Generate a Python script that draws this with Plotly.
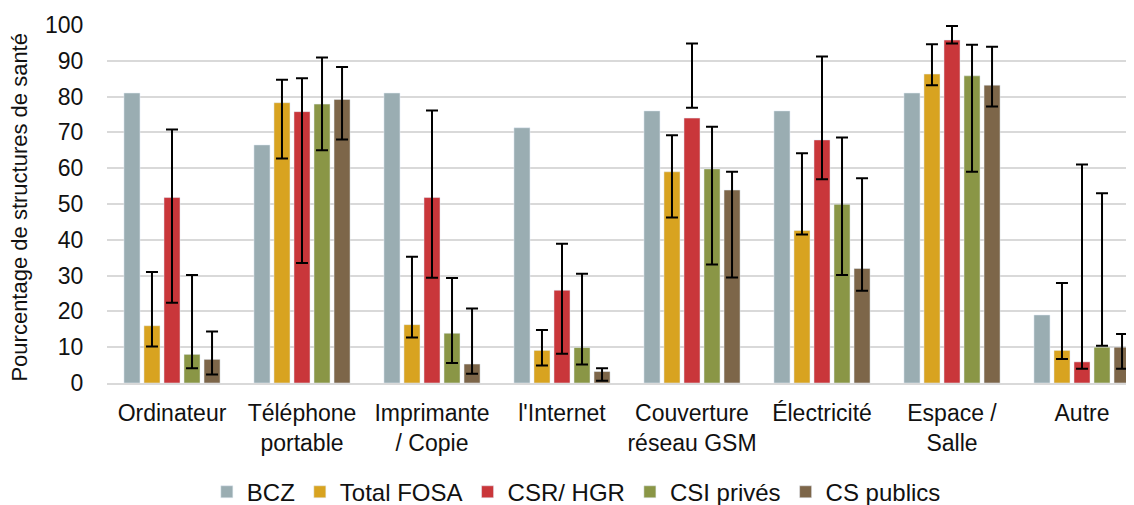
import plotly.graph_objects as go

categories = ["Ordinateur", "Téléphone<br>portable", "Imprimante<br>/ Copie", "l'Internet",
              "Couverture<br>réseau GSM", "Électricité", "Espace /<br>Salle", "Autre"]

series_names = ["BCZ", "Total FOSA", "CSR/ HGR", "CSI privés", "CS publics"]

bcz = [81, 66.5, 81, 71.3, 76, 76, 81, 19]

fosa = [16, 78.3, 16.3, 9.1, 59, 42.6, 86.3, 9.1]
fosa_hi = [31, 84.7, 35.3, 14.8, 69.2, 64.2, 94.6, 27.9]
fosa_lo = [10.2, 62.7, 12.7, 4.9, 46.2, 41.5, 83.2, 6.7]

csr = [51.8, 75.8, 51.8, 25.9, 74, 67.9, 95.8, 5.9]
csr_hi = [70.8, 85.1, 76.1, 38.9, 94.8, 91.2, 99.7, 61]
csr_lo = [22.4, 33.5, 29.4, 8.2, 76.9, 56.9, 94.8, 4]

csi = [8, 77.9, 13.9, 9.9, 59.8, 49.9, 85.8, 10]
csi_hi = [30.2, 90.9, 29.3, 30.5, 71.6, 68.6, 94.5, 53]
csi_lo = [4.1, 65, 5.6, 5.2, 33.1, 30.2, 59, 10.4]

csp = [6.6, 79.2, 5.3, 3.2, 53.9, 32, 83.2, 10]
csp_hi = [14.4, 88.3, 20.8, 4.1, 59, 57.2, 93.9, 13.7]
csp_lo = [2.4, 68, 2.6, 0.6, 29.5, 25.8, 77.2, 4]

colors = ["#9aadb2", "#d8a320", "#c9363a", "#8a9646", "#7d6649"]

fig = go.Figure()

fig.add_trace(go.Bar(name=series_names[0], x=categories, y=bcz, marker_color=colors[0]))

for name, vals, hi, lo, col in [
    (series_names[1], fosa, fosa_hi, fosa_lo, colors[1]),
    (series_names[2], csr, csr_hi, csr_lo, colors[2]),
    (series_names[3], csi, csi_hi, csi_lo, colors[3]),
    (series_names[4], csp, csp_hi, csp_lo, colors[4]),
]:
    fig.add_trace(go.Bar(
        name=name, x=categories, y=vals, marker_color=col,
        error_y=dict(type="data", symmetric=False,
                     array=[h - v for h, v in zip(hi, vals)],
                     arrayminus=[v - l for v, l in zip(vals, lo)],
                     color="black", thickness=2, width=6),
    ))

font_family = "'Liberation Sans', Arial, sans-serif"
txt = "#111111"

# the page body adds an 8px offset; the figure is sized to fill the remaining window
fig.update_layout(
    width=1126, height=497,
    margin=dict(l=99, r=0, t=17, b=121.5, autoexpand=False),
    barmode="group", bargap=0.23, bargroupgap=0.2,
    plot_bgcolor="white", paper_bgcolor="white",
    font=dict(family=font_family, size=22, color=txt),
    legend=dict(orientation="h", x=0.457, xanchor="center", y=-0.305, yanchor="middle",
                font=dict(size=24), itemwidth=30, traceorder="normal"),
    xaxis=dict(range=[-0.5, 7.4], showgrid=False, showline=True, linecolor="#d9d9d9",
               linewidth=2, ticks="", tickfont=dict(size=23), automargin=False,
               ticklabelstandoff=8),
    yaxis=dict(range=[0, 100], dtick=10, showgrid=True, gridcolor="#d9d9d9", gridwidth=2,
               zeroline=False, ticks="outside", ticklen=18, tickcolor="rgba(0,0,0,0)",
               tickfont=dict(size=23), automargin=False),
    annotations=[dict(text="Pourcentage de structures de santé", textangle=-90,
                      xref="paper", yref="paper", x=(12 - 99) / 1027, y=0.49,
                      xanchor="center", yanchor="middle", showarrow=False,
                      font=dict(size=22, color=txt))],
)

fig.write_html("out.html")
